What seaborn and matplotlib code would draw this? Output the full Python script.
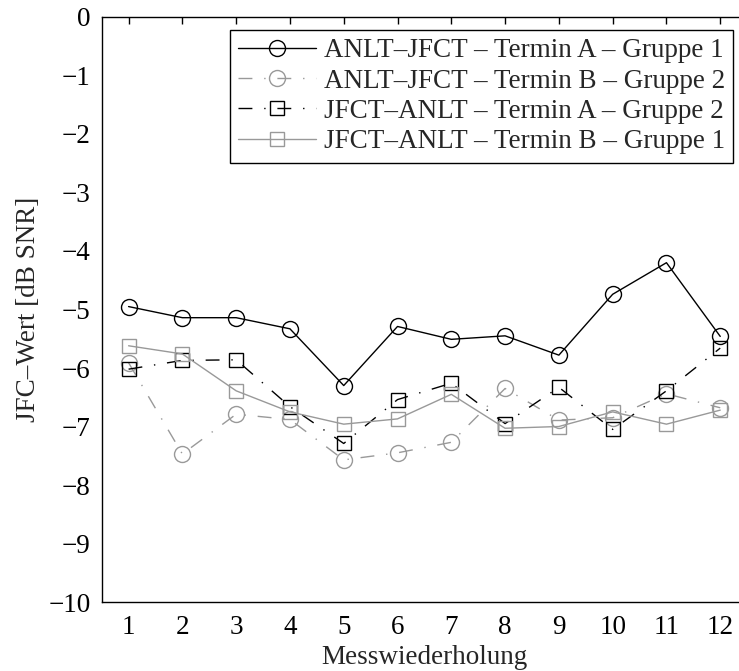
import matplotlib
matplotlib.use("Agg")
import matplotlib.pyplot as plt
import seaborn as sns
import numpy as np

# Measurement repetitions
repetitions = [1, 2, 3, 4, 5, 6, 7, 8, 9, 10, 11, 12]

# JFC values in dB SNR for each condition
anlt_jfct_a_g1 = [-4.95, -5.14, -5.14, -5.33, -6.30, -5.29, -5.51, -5.45, -5.78, -4.74, -4.20, -5.46]
anlt_jfct_b_g2 = [-5.91, -7.47, -6.79, -6.88, -7.57, -7.45, -7.27, -6.35, -6.89, -6.85, -6.44, -6.68]
jfct_anlt_a_g2 = [-6.02, -5.87, -5.86, -6.66, -7.29, -6.54, -6.26, -6.95, -6.33, -7.05, -6.39, -5.66]
jfct_anlt_b_g1 = [-5.62, -5.76, -6.39, -6.75, -6.96, -6.87, -6.45, -7.03, -7.00, -6.75, -6.96, -6.72]

labels = [
    "ANLT–JFCT – Termin A – Gruppe 1",
    "ANLT–JFCT – Termin B – Gruppe 2",
    "JFCT–ANLT – Termin A – Gruppe 2",
    "JFCT–ANLT – Termin B – Gruppe 1",
]

sns.set_style("white")
plt.rcParams["font.family"] = ["Liberation Serif", "DejaVu Serif"]
plt.rcParams["axes.unicode_minus"] = True

FS = 19.5

fig = plt.figure(figsize=(7.39, 6.71), dpi=100)
ax = fig.add_axes([0.1376, 0.1028, 1.011 - 0.1376, 0.9747 - 0.1028])

black = "black"
gray = "#999999"
dashdot = (0, (10, 8.5, 1, 8.5))

series = [
    (anlt_jfct_a_g1, black, "o", "-", 11.5),
    (anlt_jfct_b_g2, gray, "o", dashdot, 11.5),
    (jfct_anlt_a_g2, black, "s", dashdot, 9.5),
    (jfct_anlt_b_g1, gray, "s", "-", 9.5),
]

for (vals, col, mk, ls, ms), lab in zip(series, labels):
    sns.lineplot(
        x=repetitions, y=vals, ax=ax, color=col, marker=mk, markersize=ms,
        markerfacecolor="none", markeredgecolor=col, markeredgewidth=1.0,
        linestyle=ls, linewidth=1.0, label=lab, legend=False,
    )

ax.set_xlim(0.5, 12.5)
ax.set_ylim(-10, 0)
ax.set_xticks(repetitions)
ax.set_yticks(np.arange(-10, 1, 1))
ax.set_yticklabels([f"{v}".replace("-", "−") for v in range(-10, 1)])

for side in ["left", "bottom", "top", "right"]:
    ax.spines[side].set_visible(True)
    ax.spines[side].set_color("black")
    ax.spines[side].set_linewidth(1.0)

ax.tick_params(axis="both", direction="in", length=5, width=1.0, colors="black",
               labelsize=FS, top=True, right=True)
ax.tick_params(axis="x", pad=9)
ax.tick_params(axis="y", pad=8)

ax.set_xlabel("Messwiederholung", fontsize=FS, labelpad=4)
ax.set_ylabel("JFC–Wert [dB SNR]", fontsize=FS, labelpad=5)

leg = ax.legend(
    loc="upper right", bbox_to_anchor=(733 / 739, 1 - 30 / 671),
    bbox_transform=fig.transFigure, borderaxespad=0, fancybox=False,
    framealpha=1, edgecolor="black", fontsize=FS, handlelength=2.85,
    handletextpad=0.3, labelspacing=0.2, borderpad=0.3,
)
leg.get_frame().set_linewidth(1.0)

fig.savefig("out.png", dpi=100)
